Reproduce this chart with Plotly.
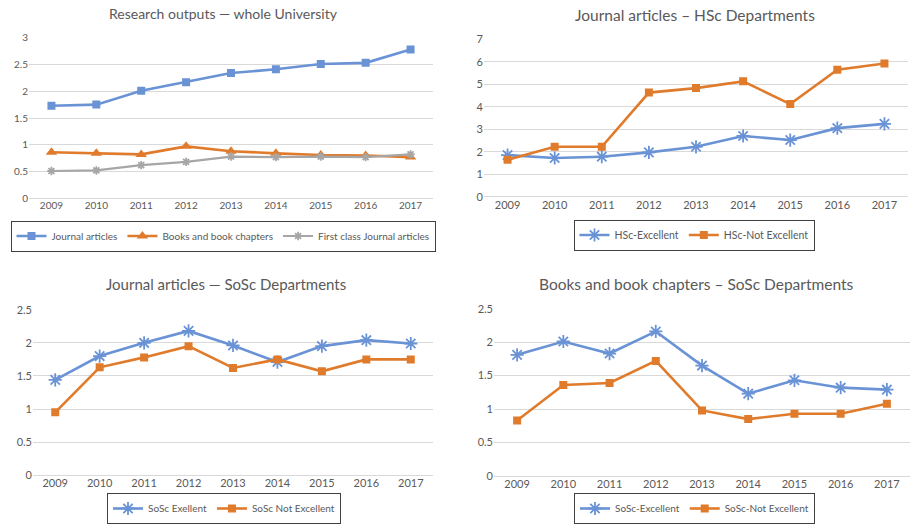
import plotly.graph_objects as go

years = ["2009", "2010", "2011", "2012", "2013", "2014", "2015", "2016", "2017"]

# Panel 1 - whole University
uni_journal = [1.73, 1.75, 2.01, 2.17, 2.34, 2.41, 2.51, 2.53, 2.78]
uni_books = [0.86, 0.84, 0.82, 0.97, 0.88, 0.84, 0.81, 0.80, 0.77]
uni_firstclass = [0.51, 0.52, 0.62, 0.68, 0.78, 0.77, 0.78, 0.77, 0.82]

# Panel 2 - HSc journal articles
hsc_exc = [1.85, 1.72, 1.78, 1.97, 2.22, 2.70, 2.52, 3.05, 3.24]
hsc_notexc = [1.64, 2.22, 2.22, 4.63, 4.83, 5.13, 4.12, 5.65, 5.92]

# Panel 3 - SoSc journal articles
sosc_j_exc = [1.44, 1.80, 2.00, 2.18, 1.96, 1.71, 1.95, 2.04, 1.99]
sosc_j_notexc = [0.95, 1.63, 1.78, 1.95, 1.62, 1.75, 1.57, 1.75, 1.75]

# Panel 4 - SoSc books
sosc_b_exc = [1.81, 2.01, 1.83, 2.16, 1.65, 1.23, 1.43, 1.32, 1.29]
sosc_b_notexc = [0.83, 1.36, 1.39, 1.72, 0.98, 0.85, 0.93, 0.93, 1.08]

BLUE = "#6A93D6"
ORANGE = "#E07B2C"
GRAY = "#A6A6A6"
FONT = "Lato"
TXT = "#595959"

W, H = 912, 525
def px(x):
    return x / W
def py(y):
    return 1 - y / H

fig = go.Figure()

def line(x, y, name, color, symbol, size, xa, ya, legend, open_=False, lw=2.6):
    marker = dict(symbol=symbol, size=size, color=color)
    if open_:
        marker["line"] = dict(color=color, width=1.8)
    fig.add_trace(go.Scatter(x=x, y=y, name=name, mode="lines+markers",
                             line=dict(color=color, width=lw), marker=marker,
                             xaxis=xa, yaxis=ya, legend=legend))

line(years, uni_journal, "Journal articles", BLUE, "square", 8, "x", "y", "legend")
line(years, uni_books, "Books and book chapters", ORANGE, "triangle-up", 10, "x", "y", "legend")
line(years, uni_firstclass, "First class Journal articles", GRAY, "asterisk-open", 7, "x", "y", "legend", True, 2.2)

line(years, hsc_exc, "HSc-Excellent", BLUE, "asterisk-open", 11, "x2", "y2", "legend2", True)
line(years, hsc_notexc, "HSc-Not Excellent", ORANGE, "square", 8, "x2", "y2", "legend2")

line(years, sosc_j_exc, "SoSc Exellent", BLUE, "asterisk-open", 11, "x3", "y3", "legend3", True)
line(years, sosc_j_notexc, "SoSc Not Excellent", ORANGE, "square", 8, "x3", "y3", "legend3")

line(years, sosc_b_exc, "SoSc-Excellent", BLUE, "asterisk-open", 11, "x4", "y4", "legend4", True)
line(years, sosc_b_notexc, "SoSc-Not Excellent", ORANGE, "square", 8, "x4", "y4", "legend4")

panels = [
    # xdom px, ydom px (top, bottom), yrange, dtick, tickfont
    ((29, 433), (37.7, 198.3), 3, 0.5, 10),
    ((484, 908), (39.3, 196.7), 7, 1, 11),
    ((33, 433), (309.7, 475.3), 2.5, 0.5, 11),
    ((494, 910), (308.7, 476.0), 2.5, 0.5, 11),
]
layout = {}
for i, (xd, yd, ymax, dt, fs) in enumerate(panels):
    s = "" if i == 0 else str(i + 1)
    layout["xaxis" + s] = dict(domain=[px(xd[0]), px(xd[1])], type="category",
                               range=[-0.5, 8.5], showgrid=False, showline=False,
                               zeroline=False, ticks="", anchor="y" + s,
                               automargin=False,
                               tickfont=dict(family=FONT, size=fs, color=TXT),
                               fixedrange=True)
    layout["yaxis" + s] = dict(domain=[py(yd[1]), py(yd[0])], range=[0, ymax],
                               dtick=dt, showgrid=True, gridcolor="#D9D9D9",
                               gridwidth=1, zeroline=True, zerolinecolor="#D9D9D9",
                               zerolinewidth=1, anchor="x" + s, ticks="",
                               automargin=False,
                               tickfont=dict(family=FONT, size=fs, color=TXT),
                               fixedrange=True)

# (center x, y, anchor, font size)
legend_pos = [(223, 236, "middle", 10), (694, 235, "middle", 10.5),
              (224, 524, "bottom", 10), (694.5, 524, "bottom", 10)]
for i, (lx, ly, anc, lf) in enumerate(legend_pos):
    s = "legend" if i == 0 else "legend" + str(i + 1)
    layout[s] = dict(x=px(lx), y=py(ly), xanchor="center", yanchor=anc,
                     orientation="h", bordercolor="#404040", borderwidth=1,
                     bgcolor="white", font=dict(family=FONT, size=lf, color=TXT),
                     itemwidth=30, tracegroupgap=0)

titles = [
    ("Research outputs — whole University", 223, 14, 14),
    ("Journal articles – HSc Departments", 695, 15, 15.5),
    ("Journal articles — SoSc Departments", 226, 284, 15),
    ("Books and book chapters – SoSc Departments", 696, 284, 15.5),
]
annotations = [dict(text=t, x=px(x), y=py(y), xref="paper", yref="paper",
                    xanchor="center", yanchor="middle", showarrow=False,
                    font=dict(family=FONT, size=fs, color=TXT))
               for t, x, y, fs in titles]

fig.update_layout(width=W, height=H,
                  margin=dict(l=0, r=0, t=0, b=0, autoexpand=False),
                  paper_bgcolor="white", plot_bgcolor="white",
                  annotations=annotations, showlegend=True, **layout)

fig.write_html("out.html", config={"displayModeBar": False},
               post_script="document.body.style.margin='0';document.body.style.overflow='hidden';")
